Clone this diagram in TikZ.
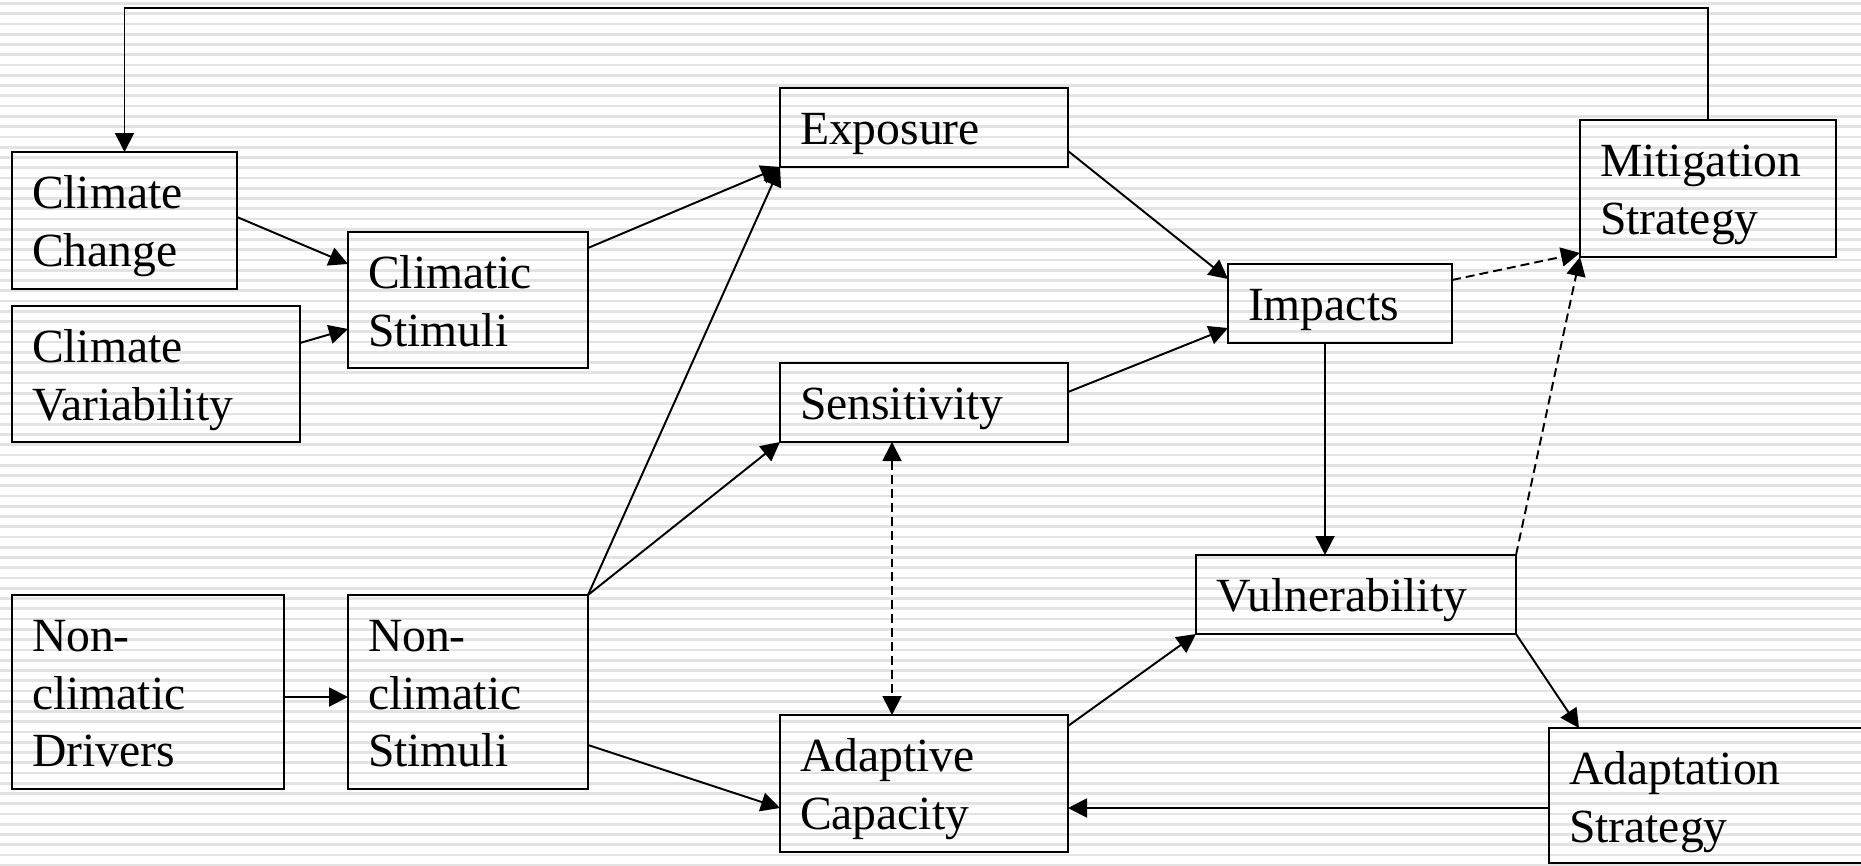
\documentclass[tikz,border=0pt]{standalone}
\usepackage{fontspec}
\setmainfont{Liberation Serif}
\usetikzlibrary{arrows.meta,calc}

\tikzset{
  box/.style={draw=black, line width=1.2pt, inner sep=0pt, outer sep=0pt},
  lbl/.style={inner sep=0pt, outer sep=0pt, text width=8cm, align=left,
              font=\fontsize{27.1}{32.7}\selectfont},
  tip/.style={Triangle[length=0.38cm,width=0.38cm]},
  link/.style={line width=1.1pt, -{Triangle[length=0.38cm,width=0.38cm]}},
  dlink/.style={link, dash pattern=on 0.18cm off 0.1cm},
  bidlink/.style={line width=1.1pt, dash pattern=on 0.18cm off 0.1cm,
                  {Triangle[length=0.38cm,width=0.38cm]}-{Triangle[length=0.38cm,width=0.38cm]}},
  stripe/.style={line width=0.055cm, draw=black!11}
}

% box with corners (x1,y1)-(x2,y2) in pixel units and a left-aligned label
\newcommand\mkbox[6]{%
  \node[box, anchor=north west,
        minimum width={(#4-#2)*0.02cm}, minimum height={(#5-#3)*0.02cm}]
        (#1) at (#2,#3) {};
  \node[lbl, anchor=base west] (#1-t) at ($(#1.north west)+(20,56.7)$) {#6};
}

\begin{document}
\begin{tikzpicture}[x=0.02cm, y=-0.02cm]
\useasboundingbox (0,0) rectangle (1861,865);
\fill[white] (0,0) rectangle (1861,865);
% narrow horizontal stripe backdrop
\foreach \k in {0,...,84}
  \draw[stripe] (0,{3.5+10.26*\k}) -- (1861,{3.5+10.26*\k});

% boxes
\mkbox{cc}{12}{152}{237}{289}{Climate\\Change}
\mkbox{cv}{12}{306}{300}{442}{Climate\\Variability}
\mkbox{cs}{348}{232}{588}{368}{Climatic\\Stimuli}
\mkbox{nd}{12}{595}{284}{789}{Non-\\climatic\\Drivers}
\mkbox{ns}{348}{595}{588}{789}{Non-\\climatic\\Stimuli}
\mkbox{ex}{780}{88}{1068}{167}{Exposure}
\mkbox{se}{780}{363}{1068}{442}{Sensitivity}
\mkbox{ac}{780}{715}{1068}{852}{Adaptive\\Capacity}
\mkbox{im}{1228}{264}{1452}{343}{Impacts}
\mkbox{vu}{1196}{555}{1516}{634}{Vulnerability}
\mkbox{mi}{1580}{120}{1836}{257}{Mitigation\\Strategy}
\mkbox{ad}{1549}{728}{1880}{863}{Adaptation\\Strategy}

% feedback loop along the top
\coordinate (topy) at (0,8);
\draw[link] (mi.north) -- (mi.north |- topy) -- (cc.north |- topy) -- (cc.north);

% climatic drivers
\draw[link] ($(cc.north east)+(0,65)$) -- ($(cs.north west)+(0,32)$);
\draw[link] ($(cv.north east)+(0,37)$) -- ($(cs.north west)+(0,97)$);
\draw[link] ($(cs.north east)+(0,16)$) -- (ex.south west);

% non-climatic drivers
\draw[link] ($(nd.north east)+(0,102)$) -- ($(ns.north west)+(0,102)$);
\draw[link] (ns.north east) -- (ex.south west);
\draw[link] (ns.north east) -- (se.south west);
\draw[link] ($(ns.north east)+(0,150)$) -- ($(ac.north west)+(0,93)$);

% sensitivity and adaptive capacity
\draw[bidlink] ($(se.south west)+(112,0)$) -- ($(ac.north west)+(112,0)$);

% impacts and vulnerability
\draw[link] ($(ex.north east)+(0,63)$) -- ($(im.north west)+(0,15)$);
\draw[link] ($(se.north east)+(0,29)$) -- ($(im.north west)+(0,64)$);
\draw[link] ($(im.south west)+(97,0)$) -- ($(vu.north west)+(129,0)$);
\draw[link] ($(ac.north east)+(0,11)$) -- (vu.south west);

% strategies
\draw[dlink] ($(im.north east)+(0,16)$) -- ($(mi.north west)+(0,133)$);
\draw[dlink] (vu.north east) -- (mi.south west);
\draw[link] (vu.south east) -- ($(ad.north west)+(30,0)$);
\draw[link] ($(ad.north west)+(0,80)$) -- ($(ac.north east)+(0,93)$);
\end{tikzpicture}
\end{document}
